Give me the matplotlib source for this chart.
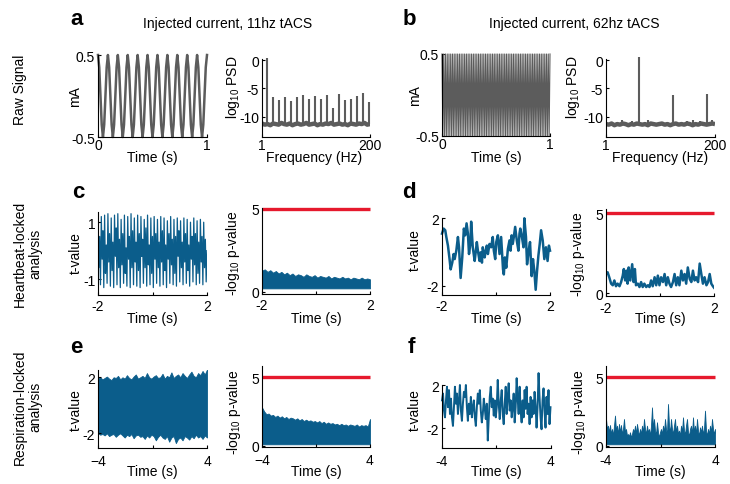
import numpy as np
import matplotlib
matplotlib.use("Agg")
import matplotlib.pyplot as plt

plt.rcParams['font.family'] = ['Liberation Sans', 'DejaVu Sans']
plt.rcParams['mathtext.fontset'] = 'custom'
plt.rcParams['mathtext.rm'] = 'Liberation Sans'
plt.rcParams['mathtext.it'] = 'Liberation Sans:italic'
plt.rcParams['axes.unicode_minus'] = False

W, H = 730, 485

# ---------------- data ----------------
# panel a: 11 Hz injected current (mA), sampled 8 points per cycle over 1 s
a_current = [
    0.50, 0.35, 0.00, -0.35, -0.50, -0.35, 0.00, 0.35,
    0.50, 0.35, 0.00, -0.35, -0.50, -0.35, 0.00, 0.35,
    0.50, 0.35, 0.00, -0.35, -0.50, -0.35, 0.00, 0.35,
    0.50, 0.35, 0.00, -0.35, -0.50, -0.35, 0.00, 0.35,
    0.50, 0.35, 0.00, -0.35, -0.50, -0.35, 0.00, 0.35,
    0.50, 0.35, 0.00, -0.35, -0.50, -0.35, 0.00, 0.35,
    0.50, 0.35, 0.00, -0.35, -0.50, -0.35, 0.00, 0.35,
    0.50, 0.35, 0.00, -0.35, -0.50, -0.35, 0.00, 0.35,
    0.50, 0.35, 0.00, -0.35, -0.50, -0.35, 0.00, 0.35,
    0.50, 0.35, 0.00, -0.35, -0.50, -0.35, 0.00, 0.35,
    0.50, 0.35, 0.00, -0.35, -0.50, -0.35, 0.00, 0.35,
    0.50]
# panel b: 62 Hz injected current (mA), extrema over 1 s
b_current = [
    0.5, -0.5, 0.5, -0.5, 0.5, -0.5, 0.5, -0.5, 0.5, -0.5,
    0.5, -0.5, 0.5, -0.5, 0.5, -0.5, 0.5, -0.5, 0.5, -0.5,
    0.5, -0.5, 0.5, -0.5, 0.5, -0.5, 0.5, -0.5, 0.5, -0.5,
    0.5, -0.5, 0.5, -0.5, 0.5, -0.5, 0.5, -0.5, 0.5, -0.5,
    0.5, -0.5, 0.5, -0.5, 0.5, -0.5, 0.5, -0.5, 0.5, -0.5,
    0.5, -0.5, 0.5, -0.5, 0.5, -0.5, 0.5, -0.5, 0.5, -0.5,
    0.5, -0.5, 0.5, -0.5, 0.5, -0.5, 0.5, -0.5, 0.5, -0.5,
    0.5, -0.5, 0.5, -0.5, 0.5, -0.5, 0.5, -0.5, 0.5, -0.5,
    0.5, -0.5, 0.5, -0.5, 0.5, -0.5, 0.5, -0.5, 0.5, -0.5,
    0.5, -0.5, 0.5, -0.5, 0.5, -0.5, 0.5, -0.5, 0.5, -0.5,
    0.5, -0.5, 0.5, -0.5, 0.5, -0.5, 0.5, -0.5, 0.5, -0.5,
    0.5, -0.5, 0.5, -0.5, 0.5, -0.5, 0.5, -0.5, 0.5, -0.5,
    0.5, -0.5, 0.5, -0.5, 0.5]

# PSD (log10) noise floor and spikes
psd_floor_level = -11.3
a_floor = [-11.2, -11.4, -11.3, -11.5, -11.2, -11.3, -11.4, -11.1, -11.3, -11.4,
           -11.2, -11.5, -11.3, -11.2, -11.4, -11.3, -11.1, -11.4, -11.3, -11.2,
           -11.5, -11.3, -11.4, -11.2, -11.3, -11.1, -11.4, -11.3, -11.2, -11.4,
           -11.3, -11.5, -11.2, -11.3, -11.4, -11.2, -11.3, -11.1, -11.4, -11.3]
a_spike_freq = [11, 22, 33, 44, 55, 66, 77, 88, 99, 110, 121, 132, 143, 154, 165, 176, 187, 198]
a_spike_psd = [0.3, -6.6, -7.1, -6.6, -7.2, -6.6, -6.2, -6.8, -6.4, -6.9, -6.2, -8.4,
               -6.0, -7.0, -6.8, -6.4, -5.9, -7.4]
b_floor = [-11.3, -11.4, -11.2, -11.5, -11.3, -11.4, -11.2, -11.3, -11.5, -11.3,
           -11.4, -11.2, -11.3, -11.4, -11.3, -11.5, -11.2, -11.3, -11.4, -11.3,
           -11.2, -11.4, -11.3, -11.5, -11.3, -11.2, -11.4, -11.3, -11.4, -11.2,
           -11.3, -11.5, -11.3, -11.4, -11.2, -11.3, -11.4, -11.3, -11.2, -11.3]
b_spike_freq = [30, 48, 62, 78, 124, 148, 160, 172, 186, 194]
b_spike_psd = [-10.6, -10.7, 0.5, -10.6, -6.2, -10.7, -10.6, -10.7, -6.0, -10.5]

# panel c: heartbeat-locked, 11 Hz
c_tvalue = [
    1.30, -0.6, 0.5, -1.20, 1.20, -0.3, 0.7, -1.30, 1.25, -0.8, 0.2, -1.15,
    1.30, -0.4, 0.6, -1.25, 1.15, -0.7, 0.3, -1.30, 1.25, -0.2, 0.8, -1.20,
    1.30, -0.6, 0.4, -1.30, 1.10, -0.5, 0.6, -1.15, 1.25, -0.8, 0.1, -1.25,
    1.20, -0.3, 0.5, -1.30, 1.30, -0.6, 0.7, -1.20, 1.15, -0.4, 0.3, -1.25,
    1.25, -0.7, 0.6, -1.30, 1.20, -0.2, 0.4, -1.15, 1.10, -0.6, 0.8, -1.25,
    1.25, -0.5, 0.2, -1.20, 1.15, -0.8, 0.5, -1.30, 1.20, -0.3, 0.6, -1.15,
    1.10, -0.6, 0.3, -1.25, 1.20, -0.4, 0.7, -1.20, 1.15, -0.7, 0.2, -1.30,
    1.05, -0.3, 0.6, -1.15, 1.20, -0.5, 0.4, -1.20, 1.10, -0.8, 0.5, -1.25,
    1.15, -0.2, 0.7, -1.10, 1.05, -0.6, 0.3, -1.20, 1.15, -0.4, 0.6, -1.15,
    1.10, -0.7, 0.2, -1.25, 1.00, -0.3, 0.5, -1.10, 1.15, -0.5, 0.6, -1.20,
    1.05, -0.8, 0.3, -1.15, 1.10, -0.4, 0.5, -1.20, 1.00, -0.6, 0.4, -1.10,
    0.0]
c_p_upper = [1.27, 1.35, 1.20, 1.30, 1.15, 1.25, 1.10, 1.20, 1.05, 1.15,
             1.00, 1.10, 0.95, 1.05, 1.00, 0.90, 1.05, 0.95, 0.90, 1.00,
             0.85, 0.95, 0.90, 0.85, 0.95, 0.80, 0.90, 0.85, 0.80, 0.90,
             0.80, 0.85, 0.75, 0.85, 0.80, 0.75, 0.85, 0.75, 0.80, 0.75]
c_p_floor = 0.2

# panel d: heartbeat-locked, 62 Hz
d_time = [-2.00, -1.94, -1.88, -1.84, -1.78, -1.72, -1.68, -1.62, -1.57, -1.53,
          -1.47, -1.41, -1.37, -1.31, -1.25, -1.19, -1.14, -1.09, -1.04, -1.00,
          -0.95, -0.92, -0.86, -0.79, -0.76, -0.71, -0.67, -0.61, -0.57, -0.52,
          -0.49, -0.42, -0.39, -0.34, -0.30, -0.24, -0.18, -0.12, -0.08, -0.03,
          0.01, 0.07, 0.13, 0.19, 0.26, 0.29, 0.33, 0.38, 0.44, 0.50,
          0.54, 0.58, 0.62, 0.66, 0.71, 0.77, 0.83, 0.87, 0.90, 0.95,
          1.02, 1.05, 1.11, 1.15, 1.21, 1.26, 1.32, 1.37, 1.42, 1.47,
          1.52, 1.57, 1.62, 1.67, 1.73, 1.79, 1.85, 1.91, 1.96, 2.00]
d_tvalue = [1.09, 1.39, 1.29, 0.89, 0.38, -0.42, -1.03, -0.63, -0.12, -0.42,
            0.08, 0.89, 0.28, -1.54, -0.32, 1.39, 0.99, 1.70, 1.09, -0.12,
            0.48, 1.80, 0.28, -0.53, -0.12, 0.59, 0.08, -0.53, -0.02, -0.63,
            0.28, -0.32, -0.02, 0.38, -0.12, 0.48, 0.28, 0.89, 0.08, -0.42,
            0.59, 0.99, -0.12, 0.89, -1.03, -1.33, -0.32, -0.93, 0.18, 0.69,
            0.08, 0.99, 0.48, 0.89, 1.49, 0.69, 0.08, 1.09, 1.39, 0.99,
            0.28, 2.00, 0.89, -0.73, 0.08, 0.59, -1.43, -0.42, -1.13, -2.24,
            -1.13, -0.22, 0.48, 1.29, 0.69, -0.42, 0.28, -0.53, 0.38, 0.08]
d_p_time = [-2.00, -1.94, -1.88, -1.81, -1.75, -1.69, -1.63, -1.57, -1.50, -1.44,
            -1.38, -1.34, -1.29, -1.24, -1.20, -1.16, -1.10, -1.03, -0.98, -0.93,
            -0.89, -0.82, -0.76, -0.70, -0.64, -0.58, -0.51, -0.45, -0.39, -0.33,
            -0.27, -0.20, -0.14, -0.08, -0.02, 0.04, 0.11, 0.17, 0.23, 0.29,
            0.35, 0.41, 0.48, 0.54, 0.60, 0.66, 0.72, 0.79, 0.85, 0.91,
            0.97, 1.03, 1.10, 1.16, 1.22, 1.28, 1.34, 1.41, 1.47, 1.53,
            1.59, 1.65, 1.72, 1.78, 1.84, 1.90, 1.96, 2.00]
d_pvalue = [1.21, 1.32, 1.01, 0.61, 0.51, 0.81, 0.45, 0.61, 0.45, 0.71,
            1.11, 1.52, 0.81, 1.42, 0.61, 1.62, 0.81, 1.82, 0.71, 1.52,
            0.51, 0.61, 0.40, 0.71, 0.40, 0.61, 0.40, 0.51, 0.40, 0.81,
            0.45, 1.01, 0.51, 1.11, 0.51, 1.01, 0.71, 1.21, 0.51, 1.01,
            0.61, 0.40, 0.71, 1.21, 0.51, 1.01, 0.51, 1.42, 0.81, 1.21,
            0.61, 1.62, 0.91, 0.71, 1.42, 0.81, 1.01, 0.71, 1.86, 1.21,
            0.61, 1.01, 0.51, 0.71, 1.21, 0.61, 0.45, 0.36]

# panel e: respiration-locked, 11 Hz (envelopes of a dense trace)
e_upper = [1.90, 2.00, 1.85, 1.95, 2.05, 1.90, 1.80, 2.00, 1.95, 2.10,
           1.85, 2.00, 1.90, 2.15, 1.95, 1.85, 2.05, 2.20, 1.90, 2.00,
           2.10, 1.95, 2.30, 2.00, 1.90, 2.05, 2.15, 1.95, 2.00, 2.25,
           1.90, 2.10, 2.00, 2.35, 1.95, 2.10, 2.20, 2.00, 2.30, 2.10,
           1.95, 2.20, 2.40, 2.10, 2.00, 2.30, 2.15, 2.45, 2.20, 2.55]
e_lower = [-2.00, -2.10, -2.05, -2.15, -2.00, -2.20, -2.10, -2.05, -2.25, -2.10,
           -2.00, -2.15, -2.30, -2.10, -2.20, -2.05, -2.35, -2.15, -2.10, -2.25,
           -2.20, -2.40, -2.15, -2.30, -2.10, -2.20, -2.50, -2.25, -2.10, -2.30,
           -2.40, -2.20, -2.60, -2.30, -2.20, -2.70, -2.40, -2.30, -2.50, -2.20,
           -2.30, -2.45, -2.20, -2.35, -2.10, -2.30, -2.20, -2.40, -2.15, -2.30]
e_p_upper = [2.80, 2.50, 2.30, 2.35, 2.20, 2.25, 2.10, 2.20, 2.05, 2.15,
             2.00, 2.10, 1.95, 2.05, 2.00, 1.90, 2.00, 1.85, 1.95, 1.80,
             1.90, 1.80, 1.85, 1.75, 1.80, 1.70, 1.80, 1.65, 1.75, 1.60,
             1.70, 1.60, 1.65, 1.55, 1.60, 1.50, 1.60, 1.50, 1.55, 1.45,
             1.55, 1.50, 1.45, 1.55, 1.40, 1.50, 1.45, 1.50, 1.40, 1.95]
e_p_floor = 0.1

# panel f: respiration-locked, 62 Hz
f_tvalue = [0.58, 1.21, -0.36, -0.99, 0.58, 1.84, -0.05, 1.53, -0.68, 0.74,
            -0.99, -1.78, -0.05, 1.84, 0.27, 1.21, -0.68, 0.58, 2.00, -0.36,
            -1.31, 0.27, 1.37, 0.90, 2.00, -0.05, -1.31, 0.27, -0.68, 0.90,
            -0.99, -0.05, 0.58, -0.99, -1.78, -0.05, 1.21, 0.27, 1.53, -0.36,
            -1.46, -0.68, 0.74, -0.20, -1.15, 0.27, -3.13, -0.99, 0.90, 1.84,
            -0.05, 0.74, -0.83, 0.58, -0.99, -0.05, 2.47, 0.27, -1.15, 0.58,
            1.53, -0.68, -1.62, 0.27, 1.84, -0.68, 0.90, 2.16, -0.36, 0.58,
            -0.99, -0.05, 1.21, -1.46, -0.05, 2.63, 0.74, -0.68, 1.84, -0.36,
            -1.46, 0.58, -0.99, 1.53, -0.20, 1.84, -0.68, 0.27, -1.62, 0.90,
            -0.99, 0.58, -0.68, 1.37, 0.11, -1.94, -0.05, 3.10, 0.90, -0.99,
            -2.09, 0.58, 1.69, -0.36, -1.94, 0.90, -0.68, 1.53, -1.62, -0.05]
f_p_upper = [1.95, 1.22, 1.46, 0.98, 1.51, 0.85, 1.22, 0.73, 1.46, 2.20,
             1.10, 1.46, 0.85, 1.59, 0.98, 1.51, 0.85, 1.22, 1.95, 0.98,
             1.22, 0.73, 0.85, 0.68, 0.98, 0.61, 0.85, 1.22, 0.98, 1.46,
             0.85, 1.59, 1.10, 0.73, 1.22, 0.85, 1.46, 0.98, 1.95, 1.22,
             0.85, 1.46, 0.98, 1.22, 0.73, 1.46, 2.80, 1.22, 1.95, 1.10,
             0.85, 1.71, 0.98, 0.61, 0.98, 1.22, 0.85, 1.46, 0.98, 1.95,
             1.22, 0.85, 3.05, 1.46, 0.98, 1.95, 1.22, 0.85, 1.46, 1.95,
             0.98, 1.46, 0.85, 1.10, 0.73, 1.46, 0.98, 2.07, 1.10, 0.85,
             1.46, 1.95, 0.98, 0.73, 1.22, 1.46, 0.85, 2.07, 0.98, 1.46,
             0.85, 1.95, 1.10, 0.73, 1.34, 0.98, 1.46, 0.85, 1.22, 2.56,
             1.10, 0.73, 1.22, 0.85, 1.46, 0.98, 1.95, 1.22, 0.85, 1.22]
f_p_floor = 0.1

threshold = 5

# ---------------- styles ----------------
GRAY = '#5c5c5c'
BLUE = '#0b5d8b'
RED = '#e6192d'
TICK_FS = 10
LAB_FS = 10

fig = plt.figure(figsize=(W / 100, H / 100), dpi=100)


def add_ax(x0, x1, yt, yb, xpad):
    ax = fig.add_axes([x0 / W, 1 - yb / H, (x1 - x0) / W, (yb - yt) / H])
    ax.patch.set_alpha(0)
    for s in ('top', 'right'):
        ax.spines[s].set_visible(False)
    for s in ('left', 'bottom'):
        ax.spines[s].set_linewidth(0.8)
    ax.tick_params(direction='in', length=2.5, width=0.8, labelsize=TICK_FS)
    ax.tick_params(axis='y', pad=2)
    ax.tick_params(axis='x', pad=xpad)
    return ax


def ylab(ax, text, xr, yc):
    ax.set_ylabel(text, fontsize=LAB_FS)
    ax.yaxis.set_label_coords(xr / W, 1 - yc / H, transform=fig.transFigure)


def xlab(ax, text, xc, ytop):
    ax.set_xlabel(text, fontsize=LAB_FS)
    ax.xaxis.set_label_coords(xc / W, 1 - ytop / H, transform=fig.transFigure)


# ---------- row 1 ----------
ax = add_ax(98, 207, 56, 138, 1)
ax.plot(np.linspace(0, 1, len(a_current)), a_current, color=GRAY, lw=1.8, clip_on=False)
ax.set_xlim(0, 1); ax.set_ylim(-0.5, 0.5)
ax.set_xticks([0, 1]); ax.set_xticklabels(['0', '1'])
ax.set_yticks([-0.5, 0.5]); ax.set_yticklabels(['-0.5', '0.5'])
ylab(ax, 'mA', 82, 97); xlab(ax, 'Time (s)', 152, 151)

ax = add_ax(262, 370, 60, 138, 1)
ax.plot(np.linspace(1, 200, len(a_floor)), a_floor, color=GRAY, lw=3.2, solid_capstyle='butt')
ax.vlines(a_spike_freq, psd_floor_level, a_spike_psd, color=GRAY, lw=1.5, clip_on=False)
ax.set_xlim(1, 200); ax.set_ylim(-13.58, 0.18)
ax.set_xticks([1, 200]); ax.set_xticklabels(['1', '200'])
ax.set_yticks([-10, -5, 0]); ax.set_yticklabels(['-10', '-5', '0'])
ylab(ax, 'log$_{10}$ PSD', 242, 87); xlab(ax, 'Frequency (Hz)', 314, 151)

ax = add_ax(442, 550, 55, 137, 1)
ax.plot(np.linspace(0, 1, len(b_current)), b_current, color=GRAY, lw=0.8, clip_on=False)
ax.set_xlim(0, 1); ax.set_ylim(-0.5, 0.5)
ax.set_xticks([0, 1]); ax.set_xticklabels(['0', '1'])
ax.set_yticks([-0.5, 0.5]); ax.set_yticklabels(['-0.5', '0.5'])
ylab(ax, 'mA', 422, 96); xlab(ax, 'Time (s)', 496, 151)

ax = add_ax(606, 715, 60, 138, 1)
ax.plot(np.linspace(1, 200, len(b_floor)), b_floor, color=GRAY, lw=3.2, solid_capstyle='butt')
ax.vlines(b_spike_freq, psd_floor_level, b_spike_psd, color=GRAY, lw=1.5, clip_on=False)
ax.set_xlim(1, 200); ax.set_ylim(-13.58, 0.18)
ax.set_xticks([1, 200]); ax.set_xticklabels(['1', '200'])
ax.set_yticks([-10, -5, 0]); ax.set_yticklabels(['-10', '-5', '0'])
ylab(ax, 'log$_{10}$ PSD', 582, 87); xlab(ax, 'Frequency (Hz)', 660, 151)

# ---------- row 2 ----------
ax = add_ax(98, 207, 212.7, 295.7, 3)
ax.plot(np.linspace(-2, 2, len(c_tvalue)), c_tvalue, color=BLUE, lw=0.9)
ax.set_xlim(-2, 2); ax.set_ylim(-1.55, 1.37)
ax.set_xticks([-2, 0, 2]); ax.set_xticklabels(['-2', '', '2'])
ax.set_yticks([-1, 1]); ax.set_yticklabels(['-1', '1'])
ylab(ax, 't-value', 83, 253); xlab(ax, 'Time (s)', 152, 312)

ax = add_ax(262, 370, 209, 295, 3)
tc = np.linspace(-2, 2, len(c_p_upper))
ax.fill_between(tc, c_p_floor, c_p_upper, color=BLUE, lw=0.6, edgecolor=BLUE)
ax.plot([-2, 2], [threshold, threshold], color=RED, lw=2.4, solid_capstyle='butt', clip_on=False)
ax.set_xlim(-2, 2); ax.set_ylim(-0.14, 5.06)
ax.set_xticks([-2, 0, 2]); ax.set_xticklabels(['-2', '', '2'])
ax.set_yticks([0, 5]); ax.set_yticklabels(['0', '5'])
ylab(ax, '-log$_{10}$ p-value', 242, 253); xlab(ax, 'Time (s)', 316, 312)

ax = add_ax(442, 550, 219.3, 296, 3)
ax.plot(d_time, d_tvalue, color=BLUE, lw=1.8, clip_on=False)
ax.set_xlim(-2, 2); ax.set_ylim(-2.55, 2.0)
ax.set_xticks([-2, 0, 2]); ax.set_xticklabels(['-2', '', '2'])
ax.set_yticks([-2, 2]); ax.set_yticklabels(['-2', '2'])
ylab(ax, 't-value', 422, 250); xlab(ax, 'Time (s)', 496, 312)

ax = add_ax(606, 714, 210, 296.7, 3.5)
ax.plot(d_p_time, d_pvalue, color=BLUE, lw=1.8)
ax.plot([-2, 2], [threshold, threshold], color=RED, lw=2.4, solid_capstyle='butt', clip_on=False)
ax.set_xlim(-2, 2); ax.set_ylim(-0.14, 5.26)
ax.set_xticks([-2, 0, 2]); ax.set_xticklabels(['-2', '', '2'])
ax.set_yticks([0, 5]); ax.set_yticklabels(['0', '5'])
ylab(ax, '-log$_{10}$ p-value', 587, 254); xlab(ax, 'Time (s)', 660, 312)

# ---------- row 3 ----------
ax = add_ax(98, 207, 370.7, 449.3, 4)
te = np.linspace(-4, 4, len(e_upper))
ax.fill_between(te, e_lower, e_upper, color=BLUE, lw=0.6, edgecolor=BLUE)
ax.set_xlim(-4, 4); ax.set_ylim(-3.07, 2.54)
ax.set_xticks([-4, 0, 4]); ax.set_xticklabels(['\u22124', '', '4'])
ax.set_yticks([-2, 2]); ax.set_yticklabels(['-2', '2'])
ylab(ax, 't-value', 83, 410); xlab(ax, 'Time (s)', 152, 465)

ax = add_ax(262, 370, 366.7, 448.3, 4)
tep = np.linspace(-4, 4, len(e_p_upper))
ax.fill_between(tep, e_p_floor, e_p_upper, color=BLUE, lw=0.6, edgecolor=BLUE)
ax.plot([-4, 4], [threshold, threshold], color=RED, lw=2.4, solid_capstyle='butt', clip_on=False)
ax.set_xlim(-4, 4); ax.set_ylim(-0.12, 5.85)
ax.set_xticks([-4, 0, 4]); ax.set_xticklabels(['\u22124', '', '4'])
ax.set_yticks([0, 5]); ax.set_yticklabels(['0', '5'])
ylab(ax, '-log$_{10}$ p-value', 243, 412); xlab(ax, 'Time (s)', 316, 465)

ax = add_ax(442, 550.5, 386, 449.3, 4)
ax.plot(np.linspace(-4, 4, len(f_tvalue)), f_tvalue, color=BLUE, lw=1.4, clip_on=False)
ax.set_xlim(-4, 4); ax.set_ylim(-3.85, 2.0)
ax.set_xticks([-4, 0, 4]); ax.set_xticklabels(['-4', '', '4'])
ax.set_yticks([-2, 2]); ax.set_yticklabels(['-2', '2'])
ylab(ax, 't-value', 422, 410); xlab(ax, 'Time (s)', 496, 465)

ax = add_ax(606, 715, 366.7, 448.3, 4)
tfp = np.linspace(-4, 4, len(f_p_upper))
ax.fill_between(tfp, f_p_floor, f_p_upper, color=BLUE, lw=0.6, edgecolor=BLUE)
ax.plot([-4, 4], [threshold, threshold], color=RED, lw=2.4, solid_capstyle='butt', clip_on=False)
ax.set_xlim(-4, 4); ax.set_ylim(-0.12, 5.85)
ax.set_xticks([-4, 0, 4]); ax.set_xticklabels(['-4', '', '4'])
ax.set_yticks([0, 5]); ax.set_yticklabels(['0', '5'])
ylab(ax, '-log$_{10}$ p-value', 588, 412); xlab(ax, 'Time (s)', 660, 465)

# ---------- annotations ----------
def ftext(x, y, s, **kw):
    fig.text(x / W, 1 - y / H, s, **kw)

for letter, x, y in [('a', 70, 25), ('b', 403, 25), ('c', 72, 198),
                     ('d', 402, 198), ('e', 70, 353), ('f', 408, 353)]:
    ftext(x, y, letter, fontsize=16, fontweight='bold', va='baseline', ha='left')

ftext(228, 28, 'Injected current, 11hz tACS', fontsize=10, ha='center', va='baseline')
ftext(574, 28, 'Injected current, 62hz tACS', fontsize=10, ha='center', va='baseline')

ftext(20, 90, 'Raw Signal', fontsize=10, rotation=90, ha='center', va='center')
ftext(28, 254, 'Heartbeat-locked\nanalysis', fontsize=10, rotation=90,
      ha='center', va='center', multialignment='center', linespacing=1.15)
ftext(28, 407, 'Respiration-locked\nanalysis', fontsize=10, rotation=90,
      ha='center', va='center', multialignment='center', linespacing=1.15)

fig.savefig('out.png', dpi=100)
